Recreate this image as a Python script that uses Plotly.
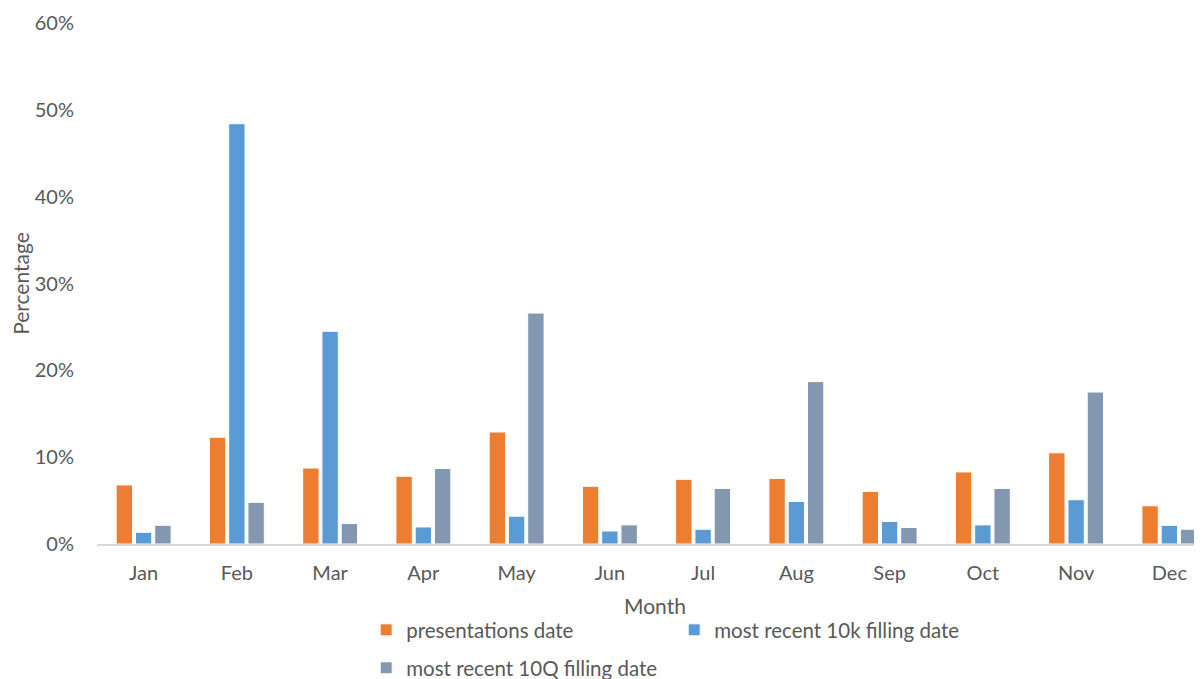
import plotly.graph_objects as go

months = ["Jan", "Feb", "Mar", "Apr", "May", "Jun", "Jul", "Aug", "Sep", "Oct", "Nov", "Dec"]
presentations = [0.068, 0.123, 0.0875, 0.078, 0.129, 0.0665, 0.0745, 0.0755, 0.0605, 0.083, 0.105, 0.044]
recent_10k = [0.0135, 0.484, 0.245, 0.0196, 0.032, 0.015, 0.017, 0.049, 0.026, 0.022, 0.051, 0.0215]
recent_10q = [0.0215, 0.048, 0.0235, 0.087, 0.266, 0.022, 0.064, 0.187, 0.019, 0.064, 0.175, 0.017]

FONT = "Lato"
GREY = "#595959"
W, H = 1194, 671

fig = go.Figure()
fig.add_trace(go.Bar(x=months, y=presentations, name="presentations date",
                     marker=dict(color="#ED7D31", line=dict(color="white", width=1)),
                     legend="legend"))
fig.add_trace(go.Bar(x=months, y=recent_10k, name="most recent 10k filling date",
                     marker=dict(color="#5B9BD5", line=dict(color="white", width=1)),
                     legend="legend"))
fig.add_trace(go.Bar(x=months, y=recent_10q, name="most recent 10Q filling date",
                     marker=dict(color="#8497B0", line=dict(color="white", width=1)),
                     legend="legend2"))

fig.update_layout(
    width=W, height=H,
    margin=dict(l=89, r=0, t=15, b=135, autoexpand=False),
    paper_bgcolor="white", plot_bgcolor="white",
    barmode="group", bargap=0.38, bargroupgap=0.15,
    font=dict(family=FONT, size=20, color=GREY),
    xaxis=dict(
        range=[-0.5, 11.35], showgrid=False, showline=True, linecolor="#D9D9D9", linewidth=1.5,
        ticks="", tickfont=dict(size=20, color=GREY), ticklabelstandoff=10, automargin=False,
    ),
    yaxis=dict(
        range=[0, 0.6], dtick=0.1, tickformat=".0%", showgrid=False, zeroline=False,
        showline=False, ticks="", tickfont=dict(size=20, color=GREY), ticklabelstandoff=22,
        automargin=False,
        title=dict(text="Percentage", font=dict(size=21, color=GREY), standoff=4),
    ),
    annotations=[dict(
        text="Month", xref="paper", yref="paper", x=0.505, y=-0.1171,
        xanchor="center", yanchor="middle", showarrow=False,
        font=dict(size=21, color=GREY),
    )],
    legend=dict(
        orientation="h", xref="container", yref="container",
        x=0.3, y=1 - 602 / H, xanchor="left", yanchor="top",
        entrywidth=263, entrywidthmode="pixels",
        font=dict(size=20.5, color=GREY), itemwidth=30, traceorder="normal",
        bgcolor="rgba(0,0,0,0)",
    ),
    legend2=dict(
        orientation="h", xref="container", yref="container",
        x=0.3, y=1 - 640 / H, xanchor="left", yanchor="top",
        font=dict(size=20.5, color=GREY), itemwidth=30,
        bgcolor="rgba(0,0,0,0)",
    ),
)

fig.write_html("out.html")
